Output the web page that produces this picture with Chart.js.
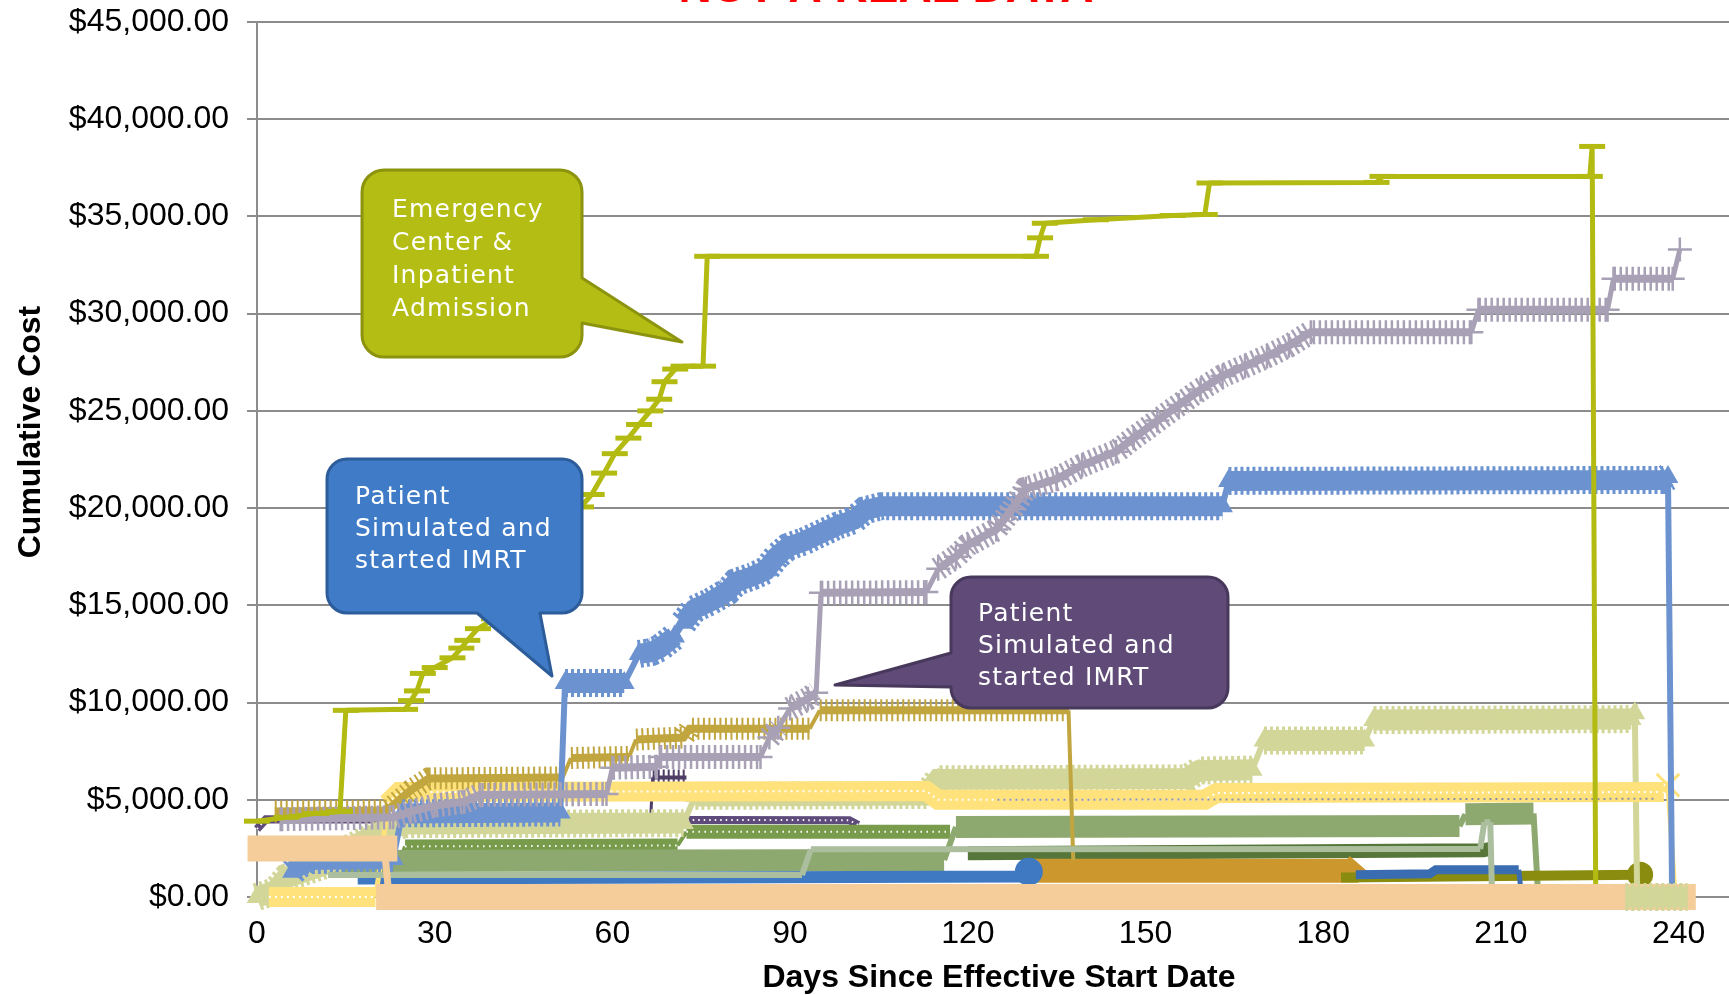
<!DOCTYPE html>
<html lang="en">
<head>
<meta charset="utf-8">
<title>Cumulative Cost by Day</title>
<script src="https://cdn.jsdelivr.net/npm/chart.js@4.4.1/dist/chart.umd.min.js"></script>
<style>
  html, body { margin: 0; padding: 0; background: #ffffff; overflow: hidden; }
  canvas { display: block; }
</style>
</head>
<body>
<canvas id="costChart" width="1729" height="995"></canvas>
<script>
// ---- axis ticks ----
const dayTicks = [0, 30, 60, 90, 120, 150, 180, 210, 240];
const costTicks = [0, 5000, 10000, 15000, 20000, 25000, 30000, 35000, 40000, 45000];
const dayMax = 248.5;

// ---- cumulative cost per patient: [day, running total] where the total changes ----
const erInpatient = [[0,3900],[5,4100],[10,4300],[14,4400],[15,9600],[25,9650],[26,10100],[27,10600],[28,11500],[30,11800],[33,12300],[34.5,12800],[35.5,13200],[37.3,13800],[40,14300],[43,15200],[46,16200],[49,17300],[52,18600],[54.7,20060],[56.5,20700],[58.6,21800],[60.4,22800],[62.7,23600],[64.5,24300],[66.4,25000],[67.9,25600],[68.8,26500],[70.6,27150],[72,27300],[75.3,27300],[76,32950],[131.5,32950],[132.2,33900],[133,34650],[141.6,34830],[154.6,35050],[160,35100],[160.8,36720],[189,36750],[190,37060],[225,37060],[225.4,38600],[226,0]];
const imrtStartA = [[6,1300],[8,1900],[23,1950],[24.5,4300],[51.2,4350],[52,11000],[62,11000],[64.5,12500],[66.6,12600],[68,12800],[70.5,13400],[72,14100],[73.8,14800],[76.6,15200],[79.4,15700],[80.9,16200],[83.7,16500],[85.9,16800],[87.7,17500],[89.6,18000],[92.4,18300],[95.2,18700],[98,19100],[100.8,19400],[102.7,19900],[105.4,20100],[163,20100],[164,21400],[237.4,21450],[238.2,21600],[238.9,0]];
const imrtStartB = [[4,4000],[23,4100],[26,4400],[30,4700],[35,4900],[37.6,5250],[59,5300],[60,6650],[67.5,6700],[68,7200],[85,7200],[86.5,8200],[88,8700],[90,9700],[93,10200],[94.4,10500],[95.2,15650],[113,15680],[115,16880],[118,17500],[120,18100],[124.8,18900],[127.5,19950],[129.8,21000],[135,21500],[139.3,22200],[145,22900],[148,23600],[152,24500],[155.6,25300],[159.3,26100],[163,26800],[166.8,27300],[170.5,27800],[174.2,28350],[177.9,29050],[205,29050],[206.2,30200],[228,30200],[229,31800],[239,31800],[240.2,33300]];
const khakiPatient = [[0,0],[3,300],[5,1000],[8,1300],[12,1700],[15,2400],[18,2900],[21,3400],[25,3750],[72,3800],[74,5200],[113,5250],[115,6050],[157,6100],[159,6500],[168,6550],[170,8050],[187,8050],[188.5,9100],[232,9150],[232.6,9450],[233,0]];
const khakiTail = [[231,0],[241.5,0]];
const yellowPatient = [[2,0],[20,0],[21,2000],[22,4800],[24,5400],[113,5450],[115,5000],[160,5000],[162,5350],[237.5,5400],[238.2,5750],[239.4,0]];
const slatePatient = [[125,5000],[236,5050]];
const goldPatient = [[3,4400],[22,4450],[26,5500],[29,6100],[51.6,6150],[53,7150],[62.8,7200],[64,8100],[72,8200],[73,8650],[93.3,8650],[95,9600],[137,9600],[137.8,1900]];
const purplePatient = [[0,3500],[1.5,4000],[100,3950],[101.5,3700]];
const plumPatient = [[66.5,4300],[66.8,6150],[72.5,6150]];
const fernPatient = [[24,1800],[25,2600],[71,2650],[72.5,3350],[117,3350]];
const greenPatient = [[12,1500],[14,1850],[116,1900],[118,3600],[203,3650],[204,4250],[215.5,4300],[216.3,0]];
const forestPatient = [[120,2250],[207,2400],[208.6,2500]];
const copperPatient = [[131,1350],[185,1350],[186,1700]];
const olivePatient = [[183,1000],[233.5,1150]];
const navyPatient = [[185.5,1150],[198,1200],[199,1400],[213,1400],[213.5,0]];
const cobaltPatient = [[17,950],[129,1050],[130.3,1300]];
const sagePatient = [[12,1130],[92,1130],[93.5,2450],[206.5,2470],[207.2,3850],[208.2,3850],[208.5,0]];
const peachPatient = [[0.6,2500],[21.5,2500],[22.3,0],[240.7,0]];

const FONT = '"Liberation Sans", Arial, sans-serif';
const CLEAR = 'rgba(0,0,0,0)';

// a segment counts as a jump when it rises or falls much faster than it moves right
function isJump(c) {
  return Math.abs(c.p1.y - c.p0.y) > 1.5 * Math.abs(c.p1.x - c.p0.x);
}
function xy(pairs) { return pairs.map(p => ({ x: p[0], y: p[1] })); }

// solid run of a series; jumps are drawn with a thinner stroke
function band(pairs, color, width, jumpWidth, extra) {
  return Object.assign({
    data: xy(pairs),
    borderColor: color,
    backgroundColor: color,
    borderWidth: width,
    borderCapStyle: 'butt',
    borderJoinStyle: 'miter',
    pointRadius: 0,
    fill: false,
    clip: false,
    segment: { borderWidth: c => isJump(c) ? jumpWidth : undefined }
  }, extra || {});
}
// dashed stroke along the flat runs (comb, hatching, dotted rows)
function texture(pairs, color, width, dash) {
  return {
    data: xy(pairs),
    borderColor: color,
    borderWidth: width,
    borderDash: dash,
    borderCapStyle: 'butt',
    pointRadius: 0,
    fill: false,
    clip: false,
    segment: { borderColor: c => isJump(c) ? CLEAR : undefined }
  };
}
// point markers; which = 'all' or 'last'
function marks(pairs, color, style, radius, lineWidth, which) {
  const last = pairs.length - 1;
  return {
    data: xy(pairs),
    showLine: false,
    clip: false,
    pointStyle: style,
    pointRadius: c => (which === 'all' || c.dataIndex === last) ? radius : 0,
    pointBorderWidth: lineWidth,
    pointBorderColor: color,
    pointBackgroundColor: color
  };
}

// bottom-most first
const layers = [
  band(purplePatient, '#5E4A7B', 8, 3),
  texture(purplePatient, '#FFFFFF', 2, [1.5, 4]),
  band(plumPatient, '#4E3D66', 4, 3),
  texture(plumPatient, '#4E3D66', 16, [2, 3]),
  band(fernPatient, '#789B4C', 14, 4),
  texture(fernPatient, '#FFFFFF', 2, [1.5, 4.5]),
  band(greenPatient, '#8EA970', 22, 6),
  band(forestPatient, '#57773A', 14, 5),
  band(copperPatient, '#CC982E', 24, 6),
  band(olivePatient, '#8A8C0F', 10, 5),
  marks(olivePatient, '#8A8C0F', 'circle', 13, 0, 'last'),
  band(navyPatient, '#3A6CB1', 9, 5),
  band(cobaltPatient, '#3F79C2', 12, 5),
  marks(cobaltPatient, '#3F79C2', 'circle', 14, 0, 'last'),
  band(khakiPatient, '#D2D698', 21, 6),
  texture(khakiPatient, '#D2D698', 28, [3, 3]),
  marks(khakiPatient, '#D2D698', 'triangle', 12, 0, 'all'),
  band(yellowPatient, '#FFE27B', 20, 5),
  texture(yellowPatient, '#FFFFFF', 2, [2, 4]),
  marks(yellowPatient.slice(0, -1), '#FFE27B', 'crossRot', 16, 3, 'last'),
  texture(slatePatient, '#8D8FA8', 2, [2, 4]),
  band(goldPatient, '#C1A53E', 8, 4),
  texture(goldPatient, '#C1A53E', 22, [2, 3.5]),
  band(imrtStartA, '#6C93D0', 20, 6),
  texture(imrtStartA, '#6C93D0', 28, [3, 3]),
  marks(imrtStartA, '#6C93D0', 'triangle', 12, 0, 'all'),
  texture(imrtStartB, '#A8A1B6', 24, [2.5, 3.5]),
  band(imrtStartB, '#A8A1B6', 8, 5),
  marks(imrtStartB, '#A8A1B6', 'cross', 12, 2.5, 'all'),
  band(erInpatient, '#B3BA12', 5, 5),
  marks(erInpatient, '#B3BA12', 'line', 13, 5, 'all'),
  band(sagePatient, '#ABBE9D', 6, 6),
  band(peachPatient, '#F5CD9A', 26, 7, { borderCapStyle: 'square' }),
  band(khakiTail, '#D2D698', 21, 6),
  texture(khakiTail, '#D2D698', 28, [3, 3])
];
layers.forEach((d, i) => { d.order = layers.length - i; });

// speech-bubble notes, placed in data units
const callouts = [
  { lines: ['Emergency', 'Center &', 'Inpatient', 'Admission'], fill: '#B4BD13', edge: '#8C930F',
    box: [17.73, 37390, 54.87, 27770], side: 'right', base: [31834, 29520], tip: [71.75, 28540],
    radius: 22, pad: 30, first: 47, lead: 33 },
  { lines: ['Patient', 'Simulated and', 'started IMRT'], fill: '#3F7BC6', edge: '#2C5C99',
    box: [11.82, 22526, 54.87, 14606], side: 'bottom', base: [37.14, 47.77], tip: [49.8, 11366],
    radius: 20, pad: 28, first: 45, lead: 32 },
  { lines: ['Patient', 'Simulated and', 'started IMRT'], fill: '#5F4A78', edge: '#47385C',
    box: [117.16, 16458, 163.92, 9720], side: 'left', base: [12549, 10800], tip: [97.58, 10903],
    radius: 20, pad: 27, first: 44, lead: 32 }
];

function drawCallout(ctx, xs, ys, c) {
  const x0 = xs.getPixelForValue(c.box[0]), y0 = ys.getPixelForValue(c.box[1]);
  const x1 = xs.getPixelForValue(c.box[2]), y1 = ys.getPixelForValue(c.box[3]);
  const tx = xs.getPixelForValue(c.tip[0]), ty = ys.getPixelForValue(c.tip[1]);
  const r = c.radius;
  ctx.save();
  ctx.beginPath();
  ctx.moveTo(x0 + r, y0);
  ctx.lineTo(x1 - r, y0);
  ctx.arcTo(x1, y0, x1, y0 + r, r);
  if (c.side === 'right') {
    const a = ys.getPixelForValue(c.base[0]), b = ys.getPixelForValue(c.base[1]);
    ctx.lineTo(x1, Math.min(a, b)); ctx.lineTo(tx, ty); ctx.lineTo(x1, Math.max(a, b));
  }
  ctx.lineTo(x1, y1 - r);
  ctx.arcTo(x1, y1, x1 - r, y1, r);
  if (c.side === 'bottom') {
    const a = xs.getPixelForValue(c.base[0]), b = xs.getPixelForValue(c.base[1]);
    ctx.lineTo(Math.max(a, b), y1); ctx.lineTo(tx, ty); ctx.lineTo(Math.min(a, b), y1);
  }
  ctx.lineTo(x0 + r, y1);
  ctx.arcTo(x0, y1, x0, y1 - r, r);
  if (c.side === 'left') {
    const a = ys.getPixelForValue(c.base[0]), b = ys.getPixelForValue(c.base[1]);
    ctx.lineTo(x0, Math.max(a, b)); ctx.lineTo(tx, ty); ctx.lineTo(x0, Math.min(a, b));
  }
  ctx.lineTo(x0, y0 + r);
  ctx.arcTo(x0, y0, x0 + r, y0, r);
  ctx.closePath();
  ctx.fillStyle = c.fill;
  ctx.fill();
  ctx.lineWidth = 3;
  ctx.lineJoin = 'round';
  ctx.strokeStyle = c.edge;
  ctx.stroke();
  ctx.fillStyle = '#FFFFFF';
  ctx.font = '25px "DejaVu Sans", Verdana, sans-serif';
  ctx.textAlign = 'left';
  ctx.textBaseline = 'alphabetic';
  ctx.letterSpacing = '1.2px';
  c.lines.forEach((t, i) => ctx.fillText(t, x0 + c.pad, y0 + c.first + i * c.lead));
  ctx.restore();
}

const notesPlugin = {
  id: 'notes',
  afterDatasetsDraw(chart) {
    const { ctx, scales } = chart;
    callouts.forEach(c => drawCallout(ctx, scales.x, scales.y, c));
  },
  afterDraw(chart) {
    const ctx = chart.ctx;
    ctx.save();
    // heading, mostly above the top edge of the canvas
    ctx.fillStyle = '#FF0000';
    ctx.font = 'bold 46px ' + FONT;
    ctx.textAlign = 'center';
    ctx.textBaseline = 'alphabetic';
    ctx.fillText('NOT A REAL DATA', 886, 2);
    // horizontal axis title
    ctx.fillStyle = '#000000';
    ctx.font = 'bold 32px ' + FONT;
    ctx.textBaseline = 'middle';
    ctx.fillText('Days Since Effective Start Date', 999, 978);
    // vertical axis title
    ctx.translate(31, 432);
    ctx.rotate(-Math.PI / 2);
    ctx.fillText('Cumulative Cost', 0, 0);
    ctx.restore();
  }
};

new Chart(document.getElementById('costChart'), {
  type: 'line',
  data: { datasets: layers },
  options: {
    responsive: false,
    animation: false,
    devicePixelRatio: 1,
    events: [],
    layout: { autoPadding: false, padding: { left: 0, right: 0, top: 22, bottom: 0 } },
    plugins: { legend: { display: false }, tooltip: { enabled: false } },
    scales: {
      x: {
        type: 'linear', min: 0, max: dayMax,
        afterBuildTicks: s => { s.ticks = dayTicks.map(v => ({ value: v })); },
        afterFit: s => { s.height = 98; s.paddingLeft = 0; s.paddingRight = 0; },
        grid: { display: false, drawTicks: false },
        border: { display: true, color: '#8C8C8C', width: 2 },
        ticks: { font: { family: FONT, size: 32 }, color: '#000000', padding: 18, maxRotation: 0, autoSkip: false }
      },
      y: {
        type: 'linear', min: 0, max: 45000,
        afterBuildTicks: s => { s.ticks = costTicks.map(v => ({ value: v })); },
        afterFit: s => { s.width = 257; s.paddingTop = 0; s.paddingBottom = 0; },
        grid: { color: '#8C8C8C', lineWidth: 2, drawTicks: true, tickLength: 10 },
        border: { display: true, color: '#8C8C8C', width: 2 },
        ticks: { font: { family: FONT, size: 32 }, color: '#000000', padding: 18,
                 callback: v => '$' + v.toLocaleString('en-US', { minimumFractionDigits: 2, maximumFractionDigits: 2 }) }
      }
    }
  },
  plugins: [notesPlugin]
});
</script>
</body>
</html>
